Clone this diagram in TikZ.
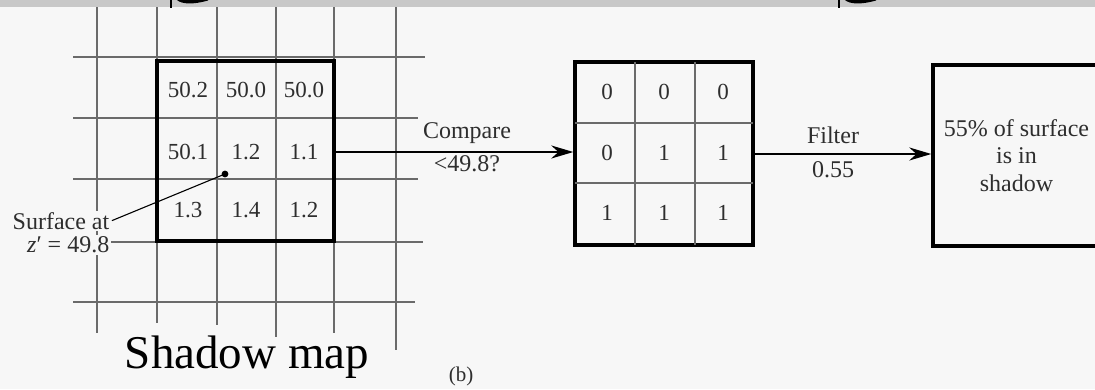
\documentclass[tikz,border=0pt]{standalone}
\usepackage{fontspec}
\setmainfont{Liberation Serif}
\usetikzlibrary{arrows.meta}

\definecolor{paper}{HTML}{F7F7F7}
\definecolor{band}{HTML}{C8C8C8}
\definecolor{ink}{HTML}{2E2E2E}
\definecolor{gridgray}{HTML}{6A6A6A}

\tikzset{
  gridline/.style={gridgray, line width=1.2pt},
  mapbox/.style={draw=black, line width=3.4pt, inner sep=0pt, minimum width=#1},
  cell/.style={text=ink, font=\fontsize{23}{23}\selectfont, inner sep=0pt},
  lbl/.style={text=ink, font=\fontsize{24}{25}\selectfont, inner sep=0pt},
  flow/.style={line width=2.2pt, -{Stealth[length=22pt, width=13pt]}},
}

\begin{document}
\begin{tikzpicture}[x=1pt, y=-1pt]
        \useasboundingbox (0,0) rectangle (1095,389);
        \fill[paper] (0,0) rectangle (1095,389);
        \fill[band] (0,0) rectangle (1095,7);
        \clip (0,0) rectangle (1095,389);

        % cut-off marks from the part above
        \draw[line width=2.2pt] (171,0) -- (171,7.5);
        \fill (177,0) .. controls (182,4.5) and (194,4.5) .. (208,0.5) -- (208,0) -- cycle;
        \draw[line width=2.2pt] (839,0) -- (839,7.5);
        \fill (845,0) .. controls (850,4.5) and (862,4.5) .. (876,0.5) -- (876,0) -- cycle;

        % grid under the shadow map
        \foreach \x/\yend in {97/333, 157/323, 217/325, 276/337, 334/333, 396/350}
            \draw[gridline] (\x,7) -- (\x,\yend);
        \draw[gridline] (73,57) -- (425,57);
        \draw[gridline] (73,118) -- (418,118);
        \draw[gridline] (73,179) -- (418,179);
        \draw[gridline] (73,242) -- (423,242);
        \draw[gridline] (73,302) -- (415,302);

        % shadow map
        \node[mapbox=177pt, minimum height=180pt] (map) at (245.5,151) {};
        \node[cell] (m11) at (188,90) {50.2};
        \node[cell] (m12) at (246,90) {50.0};
        \node[cell] (m13) at (304,90) {50.0};
        \node[cell] (m21) at (188,152) {50.1};
        \node[cell] (m22) at (246,152) {1.2};
        \node[cell] (m23) at (304,152) {1.1};
        \node[cell] (m31) at (188,210) {1.3};
        \node[cell] (m32) at (246,210) {1.4};
        \node[cell] (m33) at (304,210) {1.2};

        \coordinate (dot) at (225,174);
        \fill (dot) circle (3.4);
        \node[lbl, anchor=east, fill=paper, inner sep=1.5pt] (sfc) at (111,221) {Surface at};
        \node[lbl, anchor=east, fill=paper, inner sep=1.5pt] (zval) at (111,245) {\textit{z}′ = 49.8};
        \draw[line width=1.1pt, shorten <=1pt] (sfc.east) -- (dot);

        % comparison results
        \node[mapbox=178pt, minimum height=183pt] (bits) at (664,153.5) {};
        \draw[gridgray, line width=1.1pt] (635,62) -- (635,245);
        \draw[gridgray, line width=1.1pt] (695,62) -- (695,245);
        \draw[gridgray, line width=1.1pt] (575,123) -- (753,123);
        \draw[gridgray, line width=1.1pt] (575,183) -- (753,183);
        \node[cell] (b11) at (607,92) {0};
        \node[cell] (b12) at (664,92) {0};
        \node[cell] (b13) at (723,92) {0};
        \node[cell] (b21) at (607,153) {0};
        \node[cell] (b22) at (664,153) {1};
        \node[cell] (b23) at (723,153) {1};
        \node[cell] (b31) at (607,213) {1};
        \node[cell] (b32) at (664,213) {1};
        \node[cell] (b33) at (723,213) {1};

        \draw[flow] (map.east |- 0,152) -- (bits.west |- 0,152);
        \node[lbl] (cmp) at (467,133) {Compare};
        \node[lbl] (thr) at (467,164) {<49.8?};

        % result
        \node[mapbox=167pt, minimum height=181pt, align=center, lbl, text=ink,
              font=\fontsize{24}{27.5}\selectfont] (res) at (1016.5,155.5)
              {55\% of surface\\is in\\shadow};

        \draw[flow] (bits.east |- 0,154) -- (res.west |- 0,154);
        \node[lbl] (flt) at (833,135) {Filter};
        \node[lbl] (val) at (833,170) {0.55};

        \node[font=\fontsize{47}{47}\selectfont] (title) at (247,357) {Shadow map};
        \node[lbl, font=\fontsize{21}{21}\selectfont] (part) at (461,376) {(b)};
    \end{tikzpicture}
\end{document}
